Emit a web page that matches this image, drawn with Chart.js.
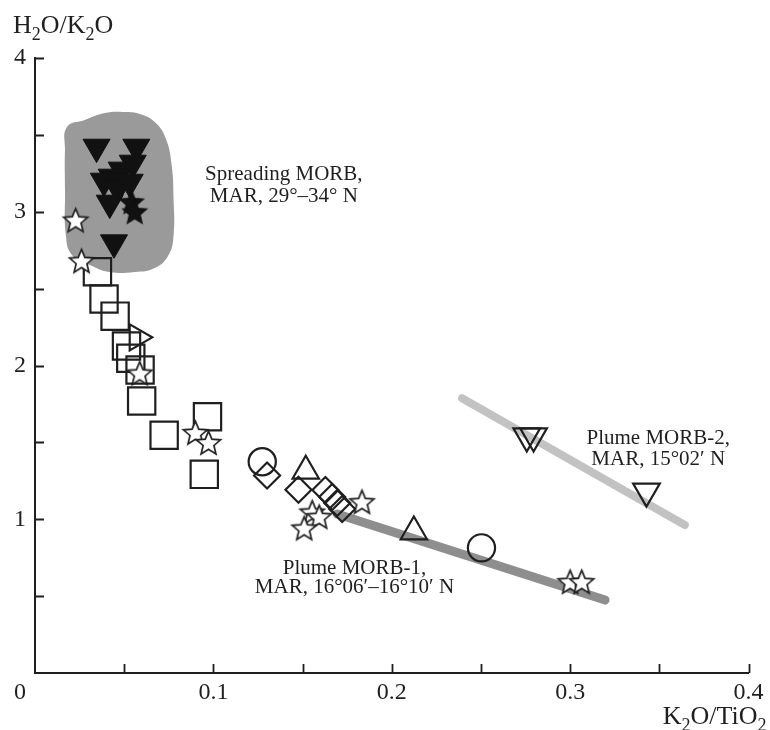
<!DOCTYPE html>
<html>
<head>
<meta charset="utf-8">
<script src="https://cdn.jsdelivr.net/npm/chart.js@4.4.1/dist/chart.umd.min.js"></script>
<style>
  html, body { margin: 0; padding: 0; background: #fff; }
  canvas { display: block; }
</style>
</head>
<body>
<canvas id="chart" width="770" height="730"></canvas>
<script>
// ---- data: [K2O/TiO2, H2O/K2O] ----
const squares = [[0.0350, 2.610], [0.0387, 2.433], [0.0449, 2.321], [0.0513, 2.127], [0.0537, 2.047],
                 [0.0589, 1.971], [0.0598, 1.769], [0.0724, 1.546], [0.0967, 1.667], [0.0949, 1.292]];
const openStars = [[0.0228, 2.946], [0.0261, 2.681], [0.0587, 1.951], [0.0899, 1.564], [0.0973, 1.499],
                   [0.1833, 1.114], [0.1554, 1.047], [0.1593, 1.017], [0.1509, 0.943], [0.3000, 0.594], [0.3065, 0.594]];
const filledStars = [[0.0541, 3.065], [0.0559, 3.000]];
const filledTriangles = [[0.0345, 3.421], [0.0568, 3.421], [0.0548, 3.317], [0.0486, 3.272], [0.0430, 3.226],
                         [0.0386, 3.200], [0.0464, 3.154], [0.0419, 3.057], [0.0531, 3.193], [0.0443, 2.799]];
const upTriangles = [[0.1518, 1.314], [0.2124, 0.919]];
const rightTriangles = [[0.0573, 2.183]];
const downTriangles = [[0.2757, 1.541], [0.2795, 1.541], [0.3428, 1.182]];
const circles = [[0.1274, 1.374], [0.2503, 0.814]];
const diamonds = [[0.1301, 1.285], [0.1477, 1.192], [0.1628, 1.190], [0.1666, 1.145], [0.1694, 1.106], [0.1722, 1.067]];

// trend bands
const plume1Trend = [[0.1694, 1.034], [0.3196, 0.475]];
const plume2Trend = [[0.2394, 1.787], [0.3643, 0.963]];

// outline of the spreading-ridge field
const spreadingField = [[0.0168, 3.141], [0.0168, 3.402], [0.0179, 3.551], [0.0279, 3.597], [0.0391, 3.642],
                        [0.0503, 3.649], [0.0587, 3.636], [0.0671, 3.584], [0.0732, 3.480], [0.0766, 3.304],
                        [0.0777, 3.076], [0.0777, 2.849], [0.0749, 2.719], [0.0671, 2.634], [0.0559, 2.608],
                        [0.0419, 2.608], [0.0307, 2.654], [0.0207, 2.719], [0.0173, 2.849], [0.0168, 3.141]];

// axis ticks
const xLabelTicks = [0.1, 0.2, 0.3, 0.4];
const yLabelTicks = [1, 2, 3, 4];

// text blocks: [x, y, line]
const notes = [
  [0.1395, 3.207, 'Spreading MORB,'],
  [0.1395, 3.064, 'MAR, 29°\u201334° N'],
  [0.1791, 0.644, 'Plume MORB-1,'],
  [0.1791, 0.520, 'MAR, 16°06\u2032\u201316°10\u2032 N'],
  [0.3494, 1.489, 'Plume MORB-2,'],
  [0.3494, 1.353, 'MAR, 15°02\u2032 N']
];

const SERIF = '"Liberation Serif", "DejaVu Serif", serif';
const INK = '#1f1f1f';

const pts = arr => arr.map(([x, y]) => ({ x, y }));

function starImage(R, ratio, fill, stroke, lw) {
  const size = Math.ceil(2 * (R + lw + 1));
  const cv = document.createElement('canvas');
  cv.width = cv.height = size;
  const g = cv.getContext('2d');
  const cx = size / 2, cy = size / 2 + 0.095 * R;
  g.beginPath();
  for (let i = 0; i < 10; i++) {
    const r = i % 2 === 0 ? R : R * ratio;
    const ang = -Math.PI / 2 + i * Math.PI / 5;
    const px = cx + r * Math.cos(ang), py = cy + r * Math.sin(ang);
    if (i === 0) g.moveTo(px, py); else g.lineTo(px, py);
  }
  g.closePath();
  g.fillStyle = fill;
  g.fill();
  g.lineWidth = lw;
  g.lineJoin = 'miter';
  g.strokeStyle = stroke;
  g.stroke();
  return cv;
}

const openStarImg = starImage(12.6, 0.45, '#ffffff', INK, 1.7);
const filledStarImg = starImage(12.6, 0.45, '#111111', '#111111', 1.2);

function markers(data, style, radius, extra) {
  return Object.assign({
    type: 'scatter',
    data: pts(data),
    pointStyle: style,
    pointRadius: radius,
    pointHoverRadius: radius,
    pointBorderWidth: 2.2,
    pointBorderColor: INK,
    pointBackgroundColor: 'rgba(0,0,0,0)',
    showLine: false,
    order: 0
  }, extra || {});
}

function band(data, color, width) {
  return {
    type: 'line',
    data: pts(data),
    borderColor: color,
    borderWidth: width,
    borderCapStyle: 'round',
    pointRadius: 0,
    fill: false,
    tension: 0,
    order: 5
  };
}

const near = (v, list) => list.some(t => Math.abs(t - v) < 1e-6);

function drawRich(ctx, parts, x, y, align, size) {
  const main = size + 'px ' + SERIF;
  const sub = Math.round(size * 0.68) + 'px ' + SERIF;
  let w = 0;
  parts.forEach(p => { ctx.font = p[1] ? sub : main; w += ctx.measureText(p[0]).width; });
  let cx = align === 'right' ? x - w : x;
  ctx.textAlign = 'left';
  ctx.textBaseline = 'alphabetic';
  parts.forEach(p => {
    ctx.font = p[1] ? sub : main;
    ctx.fillText(p[0], cx, p[1] ? y + size * 0.25 : y);
    cx += ctx.measureText(p[0]).width;
  });
}

const TICK_FONT = 24;
const X_PAD = 5;

const decor = {
  id: 'decor',
  afterDraw(chart) {
    const { ctx, chartArea: a, scales: { x, y } } = chart;
    ctx.save();
    ctx.strokeStyle = INK;
    ctx.lineWidth = 1.8;
    ctx.beginPath();
    x.ticks.forEach(t => {
      if (t.value <= 1e-9) return;
      const px = Math.round(x.getPixelForValue(t.value)) + 0.5;
      ctx.moveTo(px, a.bottom); ctx.lineTo(px, a.bottom - 9);
    });
    y.ticks.forEach(t => {
      if (t.value <= 1e-9) return;
      const py = Math.round(y.getPixelForValue(t.value)) + 0.5;
      ctx.moveTo(a.left, py); ctx.lineTo(a.left + 9, py);
    });
    ctx.stroke();

    ctx.fillStyle = INK;
    // shared origin label
    ctx.font = TICK_FONT + 'px ' + SERIF;
    ctx.textAlign = 'center';
    ctx.textBaseline = 'middle';
    ctx.fillText('0', a.left - 15, a.bottom + X_PAD + TICK_FONT * 0.6);

    // axis titles
    drawRich(ctx, [['H'], ['2', 1], ['O/K'], ['2', 1], ['O']], a.left - 22, a.top - 25, 'left', 26);
    drawRich(ctx, [['K'], ['2', 1], ['O/TiO'], ['2', 1]], a.right + 18, a.bottom + 51, 'right', 26);

    // field annotations
    ctx.font = '21px ' + SERIF;
    ctx.textAlign = 'center';
    ctx.textBaseline = 'alphabetic';
    notes.forEach(([nx, ny, s]) => {
      ctx.fillText(s, x.getPixelForValue(nx), y.getPixelForValue(ny));
    });
    ctx.restore();
  }
};

new Chart(document.getElementById('chart'), {
  type: 'scatter',
  data: {
    datasets: [
      markers(filledStars, filledStarImg, 12, { order: -1 }),
      markers(filledTriangles, 'triangle', 15.6, { pointRotation: 180, pointBackgroundColor: '#111', pointBorderColor: '#111', pointBorderWidth: 1 }),
      markers(openStars, openStarImg, 12),
      markers(squares, 'rect', 19.3),
      markers(rightTriangles, 'triangle', 15, { pointRotation: 90 }),
      markers(upTriangles, 'triangle', 15.2),
      markers(downTriangles, 'triangle', 15.4, { pointRotation: 180 }),
      markers(circles, 'circle', 13.6),
      markers(diamonds, 'rectRot', 13),
      band(plume1Trend, '#8e8e8e', 9),
      band(plume2Trend, '#c2c2c2', 8),
      {
        type: 'line',
        data: pts(spreadingField),
        borderWidth: 0,
        borderColor: 'rgba(0,0,0,0)',
        backgroundColor: '#9a9a9a',
        fill: 'shape',
        tension: 0.45,
        pointRadius: 0,
        order: 10
      }
    ]
  },
  options: {
    responsive: false,
    animation: false,
    events: [],
    layout: { padding: { top: 58, right: 19, left: 0, bottom: 0 } },
    plugins: { legend: { display: false }, tooltip: { enabled: false } },
    scales: {
      x: {
        type: 'linear',
        min: 0, max: 0.4,
        afterFit: s => { s.height = 57; },
        grid: { display: false, drawTicks: false },
        border: { display: true, color: INK, width: 2 },
        ticks: {
          stepSize: 0.05,
          padding: X_PAD,
          color: INK,
          font: { family: SERIF, size: TICK_FONT },
          maxRotation: 0,
          autoSkip: false,
          callback: v => near(v, xLabelTicks) ? String(Math.round(v * 10) / 10) : ''
        }
      },
      y: {
        type: 'linear',
        min: 0, max: 4,
        afterFit: s => { s.width = 35; },
        grid: { display: false, drawTicks: false },
        border: { display: true, color: INK, width: 2 },
        ticks: {
          stepSize: 0.5,
          padding: 9,
          color: INK,
          font: { family: SERIF, size: TICK_FONT },
          autoSkip: false,
          callback: v => near(v, yLabelTicks) ? String(v) : ''
        }
      }
    }
  },
  plugins: [decor]
});
</script>
</body>
</html>
